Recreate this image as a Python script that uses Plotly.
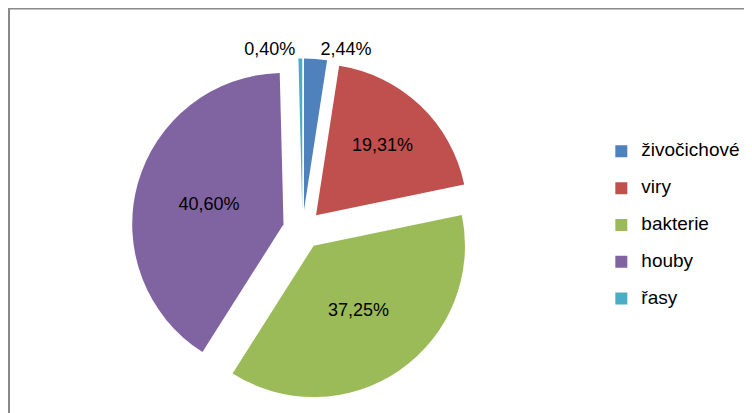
import plotly.graph_objects as go

categories = ["živočichové", "viry", "bakterie", "houby", "řasy"]
values = [2.44, 19.31, 37.25, 40.60, 0.40]
colors = ["#4F81BD", "#C0504D", "#9BBB59", "#8064A2", "#4BACC6"]
text_positions = ["outside", "inside", "inside", "inside", "outside"]

legend_labels = ['<span style="font-size:19px">%s</span><br> ' % c for c in categories]

fig = go.Figure(go.Pie(
    labels=legend_labels,
    values=values,
    sort=False,
    direction="clockwise",
    rotation=0,
    pull=[0.13] * len(values),
    marker=dict(colors=colors, line=dict(width=0)),
    texttemplate="%{value:.2f}%",
    textposition=text_positions,
    insidetextorientation="horizontal",
    textfont=dict(family="Liberation Sans, sans-serif", size=18, color="black"),
    domain=dict(x=[0.1642, 0.6190], y=[0.0497, 0.8777]),
    hoverinfo="label+percent",
))

fig.update_layout(
    width=752, height=413,
    margin=dict(l=0, r=0, t=0, b=0, autoexpand=False),
    paper_bgcolor="white",
    separators=", ",
    showlegend=True,
    legend=dict(
        x=0.789, y=0.453, xanchor="left", yanchor="middle",
        font=dict(family="Liberation Sans, sans-serif", size=13, color="black"),
        valign="top",
        itemwidth=30,
    ),
    shapes=[
        dict(type="line", xref="paper", yref="paper", x0=0, x1=0, y0=0, y1=1, line=dict(color="#8a8a8a", width=4)),
        dict(type="line", xref="paper", yref="paper", x0=0, x1=1, y0=1, y1=1, line=dict(color="#8a8a8a", width=3)),
        dict(type="line", xref="paper", yref="paper", x0=1, x1=1, y0=0, y1=1, line=dict(color="#8a8a8a", width=5)),
    ],
)

fig.write_html("out.html")
